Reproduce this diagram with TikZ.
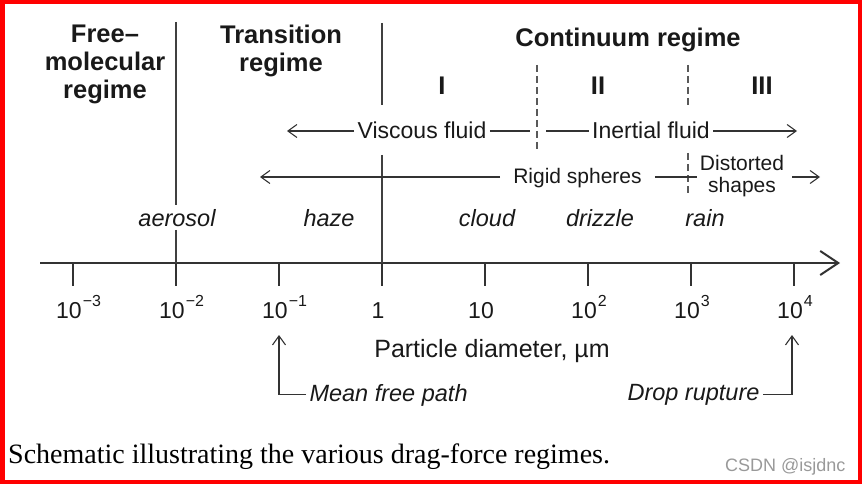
\documentclass[tikz,border=0pt]{standalone}
\usepackage{fontspec}
\setmainfont{Liberation Serif}
\setsansfont{Liberation Sans}
\usetikzlibrary{arrows.meta,positioning,calc}
\newcommand\tickexp[1]{\rlap{\kern1pt\raisebox{12pt}{\fontsize{16}{16}\selectfont#1}}}

\begin{document}
\begin{tikzpicture}[x=1pt,y=-1pt,>={Straight Barb[length=9pt,width=13pt]},
  line/.style={draw=black!80,line width=1.1pt},
  vline/.style={draw=black!75,line width=1.6pt},
  dline/.style={draw=black!65,line width=1.2pt,dash pattern=on 7pt off 4pt},
  txt/.style={font=\sffamily\fontsize{23}{25}\selectfont,text=black!90},
  small/.style={font=\sffamily\fontsize{21}{23}\selectfont,text=black!90},
  head/.style={font=\sffamily\bfseries\fontsize{25.5}{28}\selectfont,text=black!90,align=center},
  kind/.style={font=\sffamily\itshape\fontsize{23.5}{25}\selectfont,text=black!90}]
\useasboundingbox (0,0) rectangle (862,484);
\draw[red,line width=4.5pt] (2.25,2.25) rectangle (859.75,481.75);

% axis and ticks
\coordinate (a0) at (40,263);
\coordinate (a1) at (840,263);
\draw[line width=2.2pt,draw=black!80,-{Straight Barb[length=18pt,width=24pt,line width=2pt]}] (a0) -- (a1);
\foreach \n/\lab in {0/{10\tickexp{−3}},1/{10\tickexp{−2}},2/{10\tickexp{−1}},3/1,4/10,
  5/{10\tickexp{2}},6/{10\tickexp{3}},7/{10\tickexp{4}}}{
  \draw[line width=2pt,draw=black!80] (73+103*\n,263) -- ++(0,23) coordinate (t\n);
  \node[txt,anchor=base] (l\n) at ($(t\n)+(-4,32)$) {\lab};
}
\node[txt,font=\sffamily\fontsize{25}{27}\selectfont,anchor=base] (diam) at (492,357) {Particle diameter, µm};

% regime headings
\node[head,anchor=base] (free) at (105,99) {Free–\\molecular\\regime};
\node[head,anchor=base] (trans) at (281,72) {Transition\\regime};
\node[head,anchor=base] (cont) at (628,47) {Continuum regime};
\node[head,anchor=base] (r1) at (442,95) {I};
\node[head,anchor=base] (r2) at (598,95) {II};
\node[head,anchor=base] (r3) at (762,95) {III};

% dividers
\node[kind,anchor=base] (aer) at (177,226) {aerosol};
\node[kind,anchor=base] (haze) at (329,226) {haze};
\node[kind,anchor=base] (cloud) at (487,226) {cloud};
\node[kind,anchor=base] (driz) at (600,226) {drizzle};
\node[kind,anchor=base] (rain) at (705,226) {rain};
\coordinate (v1) at (176,22);
\coordinate (v2) at (382,23);
\draw[vline] (v1) -- (v1 |- aer.north) (v1 |- aer.south) -- (v1 |- a0);
\draw[vline] (v2) -- ++(0,82) (382,155) -- (v2 |- a0);
\draw[dline] (537,65) -- (537,150);
\draw[dline] (688,65) -- (688,105) (688,153) -- (688,195);

% flow regimes
\node[txt,anchor=base] (visc) at (422,139) {Viscous fluid};
\node[txt,anchor=base] (inert) at (651,139) {Inertial fluid};
\coordinate (viscend) at (287,131);
\coordinate (inertend) at (797,131);
\draw[line,->] (visc.west |- viscend) -- (viscend);
\draw[line] (visc.east |- viscend) -- (530,131);
\draw[line] (546,131) -- (inert.west |- inertend);
\draw[line,->] (inert.east |- inertend) -- (inertend);

% shape regimes
\node[small,anchor=base,inner xsep=13pt] (rigid) at (577.5,183) {Rigid spheres};
\node[small,anchor=base,align=center,inner xsep=3pt] (dist) at (742,193) {Distorted\\shapes};
\coordinate (rigidend) at (260,177);
\coordinate (distend) at (820,177);
\draw[line,->] (rigid.west |- rigidend) -- (rigidend);
\draw[line] (rigid.east |- rigidend) -- (dist.west |- rigidend);
\draw[line,->] ([xshift=5pt]dist.east |- distend) -- (distend);

% limits
\node[kind,anchor=base west] (mfp) at (306,401) {Mean free path};
\node[kind,anchor=base east] (drop) at (763,400) {Drop rupture};
\coordinate (mfptip) at (279,335);
\coordinate (droptip) at (792,335);
\draw[line,->] (mfp.west) -| (mfptip);
\draw[line,->] (drop.east) -| (droptip);

% caption
\node[font=\rmfamily\fontsize{28}{30}\selectfont,anchor=base west,inner sep=0pt] (cap) at (8,463)
  {Schematic illustrating the various drag-force regimes.};
\node[font=\sffamily\fontsize{18}{20}\selectfont,text=black!40,anchor=base west,inner sep=0pt] (mark) at (725,471)
  {CSDN @isjdnc};
\end{tikzpicture}
\end{document}
